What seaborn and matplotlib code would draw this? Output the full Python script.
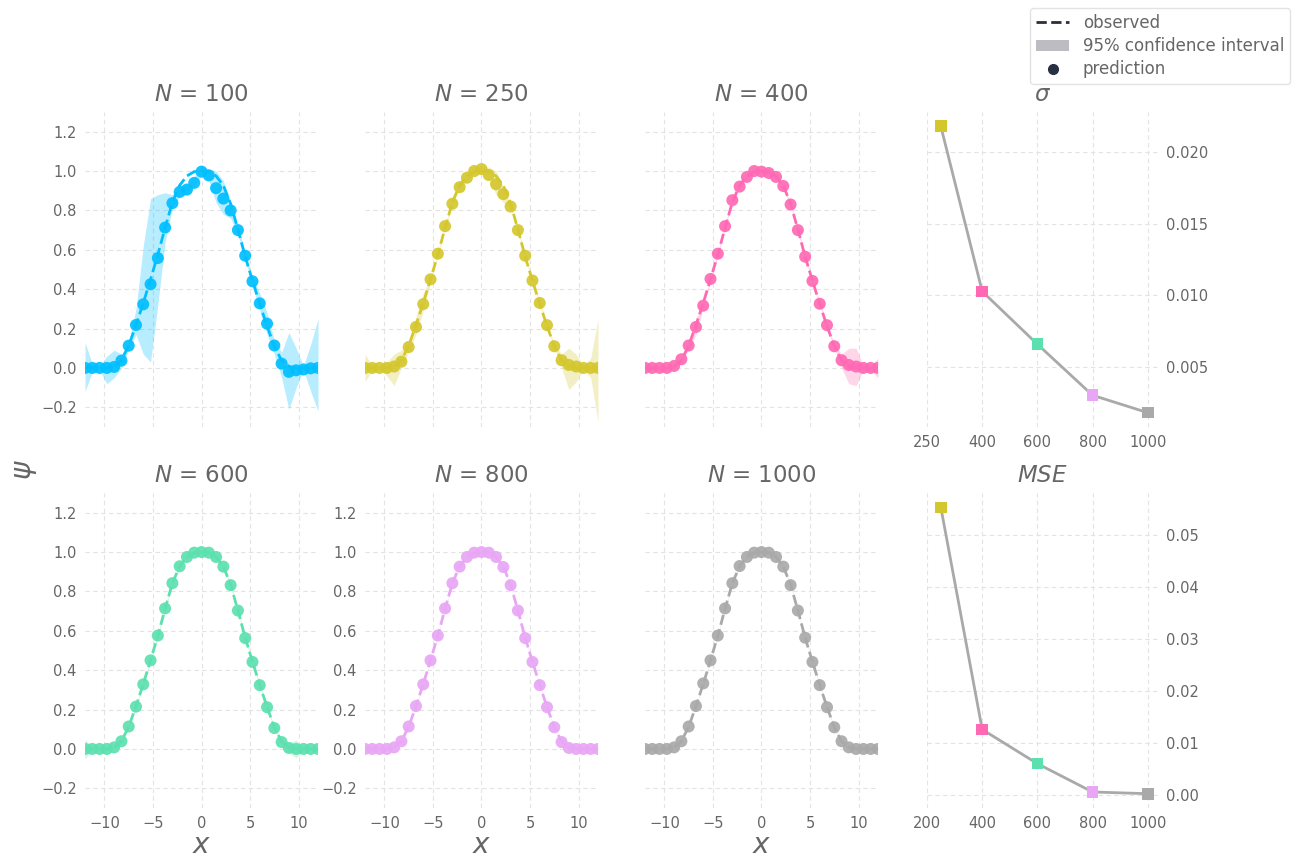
import numpy as np
import matplotlib.pyplot as plt
import seaborn as sns
from matplotlib.lines import Line2D
from matplotlib.patches import Patch
from matplotlib.ticker import MultipleLocator, FormatStrFormatter

# grid of x positions shared by every panel
X_GRID = [-12, -11.25, -10.5, -9.75, -9, -8.25, -7.5, -6.75, -6, -5.25, -4.5,
          -3.75, -3, -2.25, -1.5, -0.75, 0, 0.75, 1.5, 2.25, 3, 3.75, 4.5,
          5.25, 6, 6.75, 7.5, 8.25, 9, 9.75, 10.5, 11.25, 12]

OBSERVED = [0, 0, 0, 0, 0.008, 0.039, 0.113, 0.217, 0.33, 0.45, 0.575, 0.712,
            0.842, 0.928, 0.975, 0.997, 1.0, 0.997, 0.975, 0.926, 0.834, 0.704,
            0.565, 0.443, 0.325, 0.213, 0.11, 0.038, 0.008, 0, 0, 0, 0]

N_VALUES = [100, 250, 400, 600, 800, 1000]
COLORS = ['#00bfff', '#d4c72e', '#ff69b4', '#5ce0b0', '#e8a6f5', '#a9a9a9']

PRED_100 = [0, 0, 0, 0, 0.005, 0.037, 0.113, 0.218, 0.323, 0.425, 0.558, 0.713,
            0.837, 0.894, 0.906, 0.94, 0.997, 0.978, 0.913, 0.86, 0.80, 0.70,
            0.57, 0.44, 0.328, 0.225, 0.114, 0.022, -0.02, -0.012, -0.008, -0.002, 0]
LO_100 = [-0.12, -0.02, -0.01, -0.08, -0.05, 0.0, 0.09, 0.17, 0.07, 0.03, 0.32, 0.64,
          0.81, 0.87, 0.88, 0.92, 0.98, 0.95, 0.84, 0.78, 0.76, 0.68,
          0.55, 0.42, 0.29, 0.17, 0.07, -0.05, -0.21, -0.10, -0.01, -0.12, -0.22]
HI_100 = [0.13, 0.02, 0.01, 0.06, 0.09, 0.07, 0.13, 0.30, 0.62, 0.86, 0.88, 0.89,
          0.88, 0.93, 0.93, 0.97, 1.03, 1.01, 1.0, 0.95, 0.84, 0.72,
          0.59, 0.46, 0.38, 0.28, 0.14, 0.08, 0.18, 0.10, 0.01, 0.12, 0.25]

PRED_250 = [0, 0, 0, 0, 0.007, 0.032, 0.106, 0.208, 0.324, 0.45, 0.58, 0.72,
            0.834, 0.918, 0.966, 1.0, 1.01, 0.98, 0.933, 0.883, 0.82, 0.70,
            0.57, 0.444, 0.33, 0.217, 0.11, 0.039, 0.015, 0.007, 0, 0, 0]
LO_250 = [-0.07, -0.01, -0.005, -0.04, -0.09, 0.0, 0.08, 0.17, 0.29, 0.44, 0.57, 0.71,
          0.825, 0.91, 0.956, 0.99, 1.0, 0.96, 0.88, 0.84, 0.81, 0.69,
          0.56, 0.434, 0.32, 0.207, 0.10, 0.0, -0.11, -0.07, -0.01, -0.05, -0.27]
HI_250 = [0.07, 0.01, 0.005, 0.03, 0.07, 0.09, 0.14, 0.26, 0.38, 0.46, 0.59, 0.73,
          0.844, 0.928, 0.976, 1.01, 1.02, 1.02, 1.0, 0.92, 0.83, 0.71,
          0.58, 0.454, 0.34, 0.227, 0.12, 0.07, 0.10, 0.07, 0.01, 0.05, 0.25]

PRED_400 = [0, 0, 0, 0, 0.01, 0.044, 0.114, 0.208, 0.316, 0.452, 0.58, 0.72,
            0.852, 0.921, 0.97, 1.0, 0.997, 0.99, 0.97, 0.924, 0.83, 0.70,
            0.565, 0.442, 0.326, 0.217, 0.11, 0.039, 0.015, 0.007, 0, 0, 0]
LO_400 = [-0.01, -0.01, -0.01, -0.01, 0.0, 0.034, 0.09, 0.17, 0.306, 0.442, 0.57, 0.71,
          0.842, 0.911, 0.96, 0.99, 0.987, 0.98, 0.96, 0.914, 0.82, 0.69,
          0.555, 0.432, 0.316, 0.207, 0.10, 0.0, -0.08, -0.09, -0.01, -0.01, -0.05]
HI_400 = [0.01, 0.01, 0.01, 0.01, 0.02, 0.054, 0.13, 0.25, 0.326, 0.462, 0.59, 0.73,
          0.862, 0.931, 0.98, 1.01, 1.007, 1.0, 0.98, 0.934, 0.84, 0.71,
          0.575, 0.452, 0.336, 0.227, 0.12, 0.07, 0.10, 0.10, 0.01, 0.01, 0.05]

PRED_600 = [0, 0, 0, 0, 0.008, 0.039, 0.114, 0.215, 0.328, 0.45, 0.576, 0.714,
            0.842, 0.928, 0.975, 0.997, 1.0, 0.997, 0.975, 0.926, 0.832, 0.703,
            0.563, 0.442, 0.324, 0.212, 0.106, 0.035, 0.005, 0, 0, 0, 0]
LO_600 = [-0.05, -0.008, -0.008, -0.008, 0.0, 0.031, 0.106, 0.207, 0.32, 0.442, 0.568, 0.706,
          0.834, 0.92, 0.967, 0.989, 0.992, 0.989, 0.967, 0.918, 0.824, 0.695,
          0.555, 0.434, 0.316, 0.204, 0.098, 0.027, -0.02, -0.045, -0.008, -0.008, -0.008]
HI_600 = [0.05, 0.008, 0.008, 0.008, 0.016, 0.047, 0.122, 0.223, 0.336, 0.458, 0.584, 0.722,
          0.85, 0.936, 0.983, 1.005, 1.008, 1.005, 0.983, 0.934, 0.84, 0.711,
          0.571, 0.45, 0.332, 0.22, 0.114, 0.043, 0.03, 0.045, 0.008, 0.008, 0.008]

PRED_800 = [0, 0, 0, 0, 0.008, 0.039, 0.114, 0.218, 0.328, 0.45, 0.576, 0.714,
            0.842, 0.926, 0.975, 0.997, 1.0, 0.997, 0.975, 0.924, 0.832, 0.703,
            0.563, 0.442, 0.324, 0.212, 0.11, 0.035, 0.005, 0, 0, 0, 0]
LO_800 = [-0.01, -0.005, -0.005, -0.005, 0.003, 0.034, 0.109, 0.213, 0.323, 0.445, 0.571, 0.709,
          0.837, 0.921, 0.97, 0.992, 0.995, 0.992, 0.97, 0.919, 0.827, 0.698,
          0.558, 0.437, 0.319, 0.207, 0.105, 0.03, 0.0, -0.005, -0.005, -0.005, -0.01]
HI_800 = [0.01, 0.005, 0.005, 0.005, 0.013, 0.044, 0.119, 0.223, 0.333, 0.455, 0.581, 0.719,
          0.847, 0.931, 0.98, 1.002, 1.005, 1.002, 0.98, 0.929, 0.837, 0.708,
          0.568, 0.447, 0.329, 0.217, 0.115, 0.04, 0.01, 0.005, 0.005, 0.005, 0.01]

PRED_1000 = [0, 0, 0, 0, 0.008, 0.039, 0.114, 0.218, 0.333, 0.45, 0.576, 0.714,
             0.842, 0.929, 0.975, 0.997, 1.0, 0.997, 0.975, 0.926, 0.832, 0.703,
             0.565, 0.442, 0.324, 0.212, 0.11, 0.039, 0.008, 0, 0, 0, 0]
LO_1000 = [-0.005, -0.004, -0.004, -0.004, 0.004, 0.035, 0.11, 0.214, 0.329, 0.446, 0.572, 0.71,
           0.838, 0.925, 0.971, 0.993, 0.996, 0.993, 0.971, 0.922, 0.828, 0.699,
           0.561, 0.438, 0.32, 0.208, 0.106, 0.035, 0.004, -0.004, -0.004, -0.004, -0.005]
HI_1000 = [0.005, 0.004, 0.004, 0.004, 0.012, 0.043, 0.118, 0.222, 0.337, 0.454, 0.58, 0.718,
           0.846, 0.933, 0.979, 1.001, 1.004, 1.001, 0.979, 0.93, 0.836, 0.707,
           0.569, 0.446, 0.328, 0.216, 0.114, 0.043, 0.012, 0.004, 0.004, 0.004, 0.005]

SUMMARY_N = [250, 400, 600, 800, 1000]
SIGMA = [0.02176, 0.01028, 0.00661, 0.00306, 0.00185]
MSE = [0.0553, 0.01256, 0.00598, 0.00053, 0.0002]
SIGMA_TICKLABELS = ['250', '400', '600', '800', '1000']

TEXT = '#666666'

sns.set_theme(style='whitegrid')
plt.rcParams.update({
    'font.family': ['DejaVu Sans'],
    'axes.edgecolor': 'none',
    'axes.facecolor': 'white',
    'grid.color': '#e3e3e3',
    'grid.linestyle': (0, (4, 3)),
    'grid.linewidth': 0.8,
    'xtick.color': TEXT,
    'ytick.color': TEXT,
    'xtick.labelsize': 10.5,
    'ytick.labelsize': 10.5,
    'axes.titlecolor': TEXT,
    'axes.labelcolor': TEXT,
})

fig = plt.figure(figsize=(12.98, 8.64), dpi=100)

lefts = [0.0655, 0.2812, 0.4969, 0.7142]
width = 0.1795
rows = [0.5058, 0.0648]
height = 0.3646

preds = [PRED_100, PRED_250, PRED_400, PRED_600, PRED_800, PRED_1000]
los = [LO_100, LO_250, LO_400, LO_600, LO_800, LO_1000]
his = [HI_100, HI_250, HI_400, HI_600, HI_800, HI_1000]

for i, n in enumerate(N_VALUES):
    r, c = divmod(i, 3)
    ax = fig.add_axes([lefts[c], rows[r], width, height])
    col = COLORS[i]
    ax.fill_between(X_GRID, los[i], his[i], color=col, alpha=0.28, lw=0)
    sns.lineplot(x=X_GRID, y=OBSERVED, ax=ax, color=col, lw=2, linestyle='--')
    sns.scatterplot(x=X_GRID, y=preds[i], ax=ax, color=col, s=75,
                    edgecolor='none', alpha=0.92, zorder=3)
    ax.set_xlim(-12, 12)
    ax.set_ylim(-0.3, 1.3)
    ax.set_xticks([-10, -5, 0, 5, 10])
    ax.set_yticks([-0.2, 0.0, 0.2, 0.4, 0.6, 0.8, 1.0, 1.2])
    ax.tick_params(length=0, pad=6)
    ax.set_title(f'$N$ = {n}', fontsize=16.5, pad=8)
    if r == 0:
        ax.tick_params(labelbottom=False)
        if c > 0:
            ax.tick_params(labelleft=False)
    else:
        ax.set_xlabel('$x$', fontsize=20, labelpad=0)
        if c == 2:
            ax.tick_params(labelleft=False)

palette = dict(zip(SUMMARY_N, COLORS[1:]))
for r, (vals, title) in enumerate([(SIGMA, r'$\sigma$'), (MSE, '$MSE$')]):
    ax = fig.add_axes([lefts[3], rows[r], 0.178, height])
    sns.lineplot(x=SUMMARY_N, y=vals, ax=ax, color='#a9a9a9', lw=2)
    sns.scatterplot(x=SUMMARY_N, y=vals, hue=SUMMARY_N, palette=palette, ax=ax,
                    marker='s', s=70, edgecolor='none', legend=False, zorder=3)
    ax.set_xticks([200, 400, 600, 800, 1000])
    if r == 0:
        ax.set_xticklabels(SIGMA_TICKLABELS)
        ax.yaxis.set_major_locator(MultipleLocator(0.005))
        ax.yaxis.set_major_formatter(FormatStrFormatter('%.3f'))
    ax.yaxis.tick_right()
    ax.tick_params(length=0, pad=6)
    ax.set_title(title, fontsize=16.5, pad=8)

fig.text(0.019, 1 - 470 / 864, r'$\psi$', rotation=90, fontsize=20,
         color=TEXT, ha='center', va='center')

handles = [Line2D([0], [0], color='#2b2f3a', lw=2, linestyle='--'),
           Patch(facecolor='#bcbcc2', edgecolor='none'),
           Line2D([0], [0], color='#263040', marker='o', lw=0, markersize=7)]
leg = fig.legend(handles, ['observed', '95% confidence interval', 'prediction'],
                 loc='upper right', bbox_to_anchor=(1290 / 1298, 1 - 8 / 864),
                 borderaxespad=0, fontsize=12, frameon=True, labelspacing=0.32,
                 handlelength=2.0, handletextpad=0.8, borderpad=0.35)
for t in leg.get_texts():
    t.set_color(TEXT)
leg.get_frame().set_edgecolor('#dddddd')

fig.savefig('out.png', dpi=100)
